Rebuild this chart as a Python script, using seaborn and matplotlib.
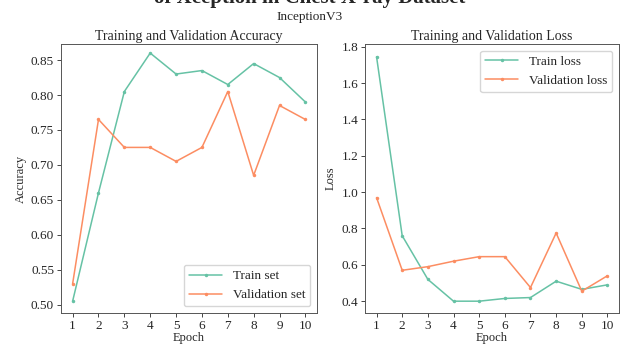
import numpy as np
import pandas as pd
import matplotlib
matplotlib.use("Agg")
import matplotlib.pyplot as plt
import seaborn as sns

epochs = [1, 2, 3, 4, 5, 6, 7, 8, 9, 10]
train_acc = [0.505, 0.66, 0.805, 0.86, 0.83, 0.835, 0.815, 0.845, 0.825, 0.79]
val_acc = [0.53, 0.765, 0.725, 0.725, 0.705, 0.725, 0.805, 0.685, 0.785, 0.765]
train_loss = [1.745, 0.76, 0.52, 0.40, 0.40, 0.415, 0.42, 0.51, 0.465, 0.49]
val_loss = [0.97, 0.57, 0.59, 0.62, 0.645, 0.645, 0.475, 0.775, 0.455, 0.54]

sns.set_style("ticks")
plt.rcParams['font.family'] = ['Liberation Serif', 'DejaVu Serif']
pal = sns.color_palette("Set2")

fig, (ax1, ax2) = plt.subplots(1, 2, figsize=(6.2, 3.45), dpi=100)
W, H = 620, 345
ax1.set_position([61 / W, 1 - 313 / H, 256 / W, 269 / H])
ax2.set_position([365 / W, 1 - 313 / H, 254 / W, 269 / H])

kw = dict(marker='o', markersize=2.5, markeredgewidth=0, linewidth=1.1)
sns.lineplot(x=epochs, y=train_acc, ax=ax1, color=pal[0], label='Train set', **kw)
sns.lineplot(x=epochs, y=val_acc, ax=ax1, color=pal[1], label='Validation set', **kw)
ax1.set_title('Training and Validation Accuracy', fontsize=10, pad=3)
ax1.set_xlabel('Epoch', fontsize=9, labelpad=0)
ax1.set_ylabel('Accuracy', fontsize=9, labelpad=3)
ax1.set_xticks(epochs)
ax1.set_yticks(np.arange(0.50, 0.851, 0.05))
ax1.set_ylim(0.488, 0.873)
ax1.legend(loc='lower right', fontsize=9.5, handlelength=2.5)

sns.lineplot(x=epochs, y=train_loss, ax=ax2, color=pal[0], label='Train loss', **kw)
sns.lineplot(x=epochs, y=val_loss, ax=ax2, color=pal[1], label='Validation loss', **kw)
ax2.set_title('Training and Validation Loss', fontsize=10, pad=3)
ax2.set_xlabel('Epoch', fontsize=9, labelpad=0)
ax2.set_ylabel('Loss', fontsize=9, labelpad=3)
ax2.set_xticks(epochs)
ax2.set_yticks([0.4, 0.6, 0.8, 1.0, 1.2, 1.4, 1.6, 1.8])
ax2.set_ylim(0.335, 1.815)
ax2.legend(loc='upper right', fontsize=9.5, handlelength=2.5)

for ax in (ax1, ax2):
    ax.tick_params(labelsize=9.5, length=3, width=0.6, pad=2)
    for s in ax.spines.values():
        s.set_linewidth(0.7)
        s.set_color('#555555')

fig.text(0.5, 0.976, 'of Xception in Chest X-ray Dataset', ha='center', va='bottom',
         fontsize=15, fontweight='bold')
fig.text(0.5, 0.95, 'InceptionV3', ha='center', va='center', fontsize=9.5)

fig.savefig('out.png', dpi=100)
